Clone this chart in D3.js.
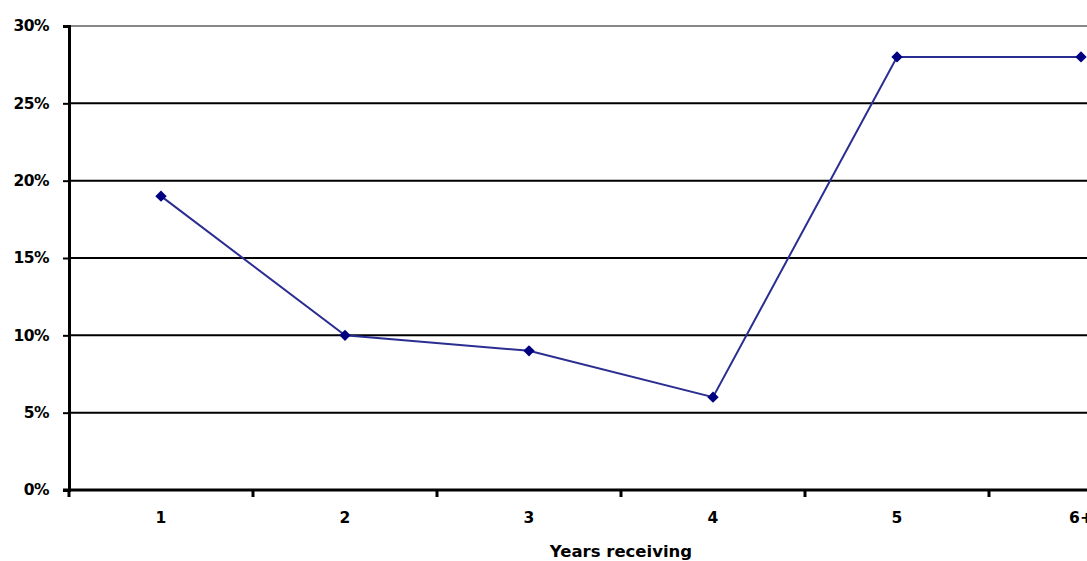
<!DOCTYPE html>
<html>
<head>
<meta charset="utf-8">
<script src="https://cdn.jsdelivr.net/npm/d3@7"></script>
<style>
  body { margin: 0; background: #fff; overflow: hidden; }
  text { font-family: "DejaVu Sans", Verdana, sans-serif; font-weight: bold; fill: #000; }
</style>
</head>
<body>
<div id="chart"></div>
<script>
const categories = ['1', '2', '3', '4', '5', '6+'];
const values = [19, 10, 9, 6, 28, 28];
const yTicks = [0, 5, 10, 15, 20, 25, 30];
const xTitle = 'Years receiving';

const width = 1087, height = 561;
const margin = { left: 69, top: 26, bottom: 71 };
const plotRight = margin.left + 184 * categories.length; // runs past the window edge

const svg = d3.select('#chart').append('svg')
  .attr('width', width)
  .attr('height', height);

const x = d3.scaleBand()
  .domain(categories)
  .range([margin.left, plotRight]);

const y = d3.scaleLinear()
  .domain([0, 30])
  .range([height - margin.bottom, margin.top]);

// gridlines
svg.append('g')
  .selectAll('line')
  .data(yTicks.filter(d => d > 0))
  .join('line')
  .attr('x1', margin.left)
  .attr('x2', plotRight)
  .attr('y1', d => y(d))
  .attr('y2', d => y(d))
  .attr('stroke', d => d === 30 ? '#888' : '#000')
  .attr('stroke-width', 2);

// y axis
const yAxis = svg.append('g')
  .attr('transform', `translate(${margin.left},0)`)
  .call(d3.axisLeft(y).tickValues(yTicks).tickFormat(d => d + '%').tickSize(6).tickPadding(14));
yAxis.select('.domain').attr('stroke-width', 3);
yAxis.selectAll('.tick line').attr('stroke-width', 2);
yAxis.selectAll('text').style('font-size', '15.5px').style('letter-spacing', '-0.5px');

// x axis: ticks at category boundaries
const xAxis = svg.append('g')
  .attr('transform', `translate(0,${y(0)})`);
xAxis.append('line')
  .attr('x1', margin.left - 6)
  .attr('x2', plotRight)
  .attr('stroke', '#000')
  .attr('stroke-width', 3);
xAxis.selectAll('line.tk')
  .data(categories)
  .join('line')
  .attr('class', 'tk')
  .attr('x1', d => x(d))
  .attr('x2', d => x(d))
  .attr('y1', 0)
  .attr('y2', 7)
  .attr('stroke', '#000')
  .attr('stroke-width', 3);
xAxis.selectAll('text')
  .data(categories)
  .join('text')
  .attr('x', d => x(d) + x.bandwidth() / 2)
  .attr('y', 33)
  .attr('text-anchor', 'middle')
  .style('font-size', '15.5px')
  .text(d => d);

svg.append('text')
  .attr('x', (margin.left + plotRight) / 2)
  .attr('y', 557)
  .attr('text-anchor', 'middle')
  .style('font-size', '16.5px')
  .text(xTitle);

// series line
const line = d3.line()
  .x((d, i) => x(categories[i]) + x.bandwidth() / 2)
  .y(d => y(d));

svg.append('path')
  .datum(values)
  .attr('d', line)
  .attr('fill', 'none')
  .attr('stroke', '#2b2e91')
  .attr('stroke-width', 2);

svg.append('g')
  .selectAll('path')
  .data(values)
  .join('path')
  .attr('d', d3.symbol(d3.symbolSquare, 64))
  .attr('transform', (d, i) => `translate(${x(categories[i]) + x.bandwidth() / 2},${y(d)}) rotate(45)`)
  .attr('fill', '#000080');
</script>
</body>
</html>
